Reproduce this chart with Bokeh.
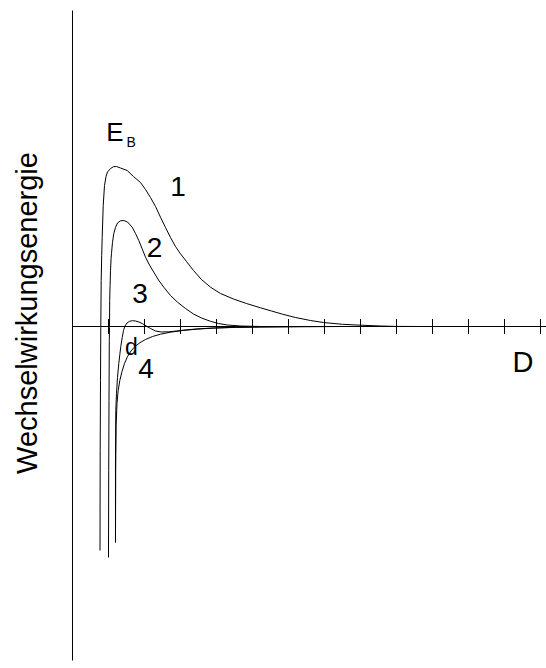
from math import pi
from bokeh.plotting import figure
from bokeh.models import Range1d, Label
from bokeh.embed import file_html
from bokeh.resources import INLINE

# ---- data (D in tick units, E in arbitrary energy units) ----
c1_D = [0.764, 0.769, 0.778, 0.786, 0.797, 0.811, 0.825, 0.853, 0.889, 0.931, 0.972, 1.056, 1.139,
        1.222, 1.333, 1.519, 1.694, 1.889, 2.028, 2.167, 2.306, 2.444, 2.583, 2.722, 2.861, 3.0,
        3.167, 3.361, 3.583, 3.833, 4.111, 4.472, 4.833, 5.222, 5.528, 5.833, 6.194, 6.611, 6.972,
        7.5, 8.0, 8.556, 8.972, 9.667]
c1_E = [-224, -124, -54, -1, 46, 71, 89, 121, 141, 150, 154.5, 158, 159.8,
        160, 158.5, 156, 150, 144, 137, 129, 120, 109.3, 99, 89, 80, 72.7,
        65, 56, 47, 39.3, 33, 27.5, 23, 18.7, 15.5, 12.3, 9, 6, 4,
        2.2, 1.3, 0.5, 0.1, 0]

c2_D = [1.0, 1.006, 1.014, 1.022, 1.028, 1.033, 1.044, 1.056, 1.072, 1.083, 1.111, 1.147, 1.194,
        1.25, 1.333, 1.425, 1.528, 1.658, 1.75, 1.842, 1.931, 2.028, 2.139, 2.258, 2.389, 2.536,
        2.722, 2.917, 3.139, 3.361, 3.583, 3.833, 4.056, 4.306, 4.667, 5.222]
c2_E = [-231, -144, -74, -14, -1, 26, 41, 56, 68, 73, 84, 93, 99,
        103.5, 105.7, 106, 104.5, 99.3, 93, 86, 78, 69.3, 61.5, 54.3, 46.5, 39.3,
        31, 24.3, 18, 12.5, 8.5, 5.2, 3, 1.5, 0.5, 0]

c3_D = [1.194, 1.194, 1.203, 1.222, 1.25, 1.286, 1.314, 1.342, 1.381, 1.417, 1.458, 1.514, 1.583,
        1.667, 1.75, 1.847, 1.944, 2.056, 2.167, 2.306, 2.472, 2.667, 2.889, 3.167, 3.556, 3.972,
        4.528, 5.222, 6.333, 7.444]
c3_E = [-216, -134, -84, -67, -51, -37, -28, -20, -11, -4, 0.5, 3.5, 5.2,
        5.8, 5.5, 4.5, 2.8, 0.3, -2, -4.5, -5.5, -5.3, -4.5, -3.3, -2.2, -1.4,
        -0.8, -0.4, -0.1, 0]

c4_D = [1.194, 1.2, 1.211, 1.236, 1.269, 1.314, 1.375, 1.444, 1.528, 1.625, 1.736, 1.875, 2.028,
        2.222, 2.444, 2.722, 3.056, 3.472, 3.917, 4.528, 5.222, 6.333, 7.444]
c4_E = [-216, -144, -99, -77, -64, -54, -45, -37, -30, -24.5, -20, -16.2, -13,
        -10, -7.7, -5.7, -4, -2.6, -1.6, -0.9, -0.5, -0.2, 0]

tick_positions = [1, 2, 3, 4, 5, 6, 7, 8, 9, 10, 11, 12, 13]
curve_labels = ["1", "2", "3", "4"]
y_title = "Wechselwirkungsenergie"
x_title = "D"
barrier_label = "E"
barrier_sub = "B"
min_label = "d"

FONT = "Liberation Sans"

p = figure(width=546, height=668, output_backend="svg", toolbar_location=None,
           x_range=Range1d(-2, 13.1667), y_range=Range1d(-342, 326),
           x_axis_location=None, y_axis_location=None, min_border=0,
           outline_line_color=None, background_fill_color="white",
           border_fill_color="white")
p.xgrid.visible = False
p.ygrid.visible = False

# axes drawn as lines through the data scales
p.segment(x0=[0], y0=[316], x1=[0], y1=[-334], line_color="black", line_width=1)
p.segment(x0=[0], y0=[0], x1=[13.17], y1=[0], line_color="black", line_width=1)
p.segment(x0=tick_positions, y0=[-7.5] * len(tick_positions),
          x1=tick_positions, y1=[7.5] * len(tick_positions),
          line_color="black", line_width=1)

for xs, ys in [(c1_D, c1_E), (c2_D, c2_E), (c3_D, c3_E), (c4_D, c4_E)]:
    p.line(xs, ys, line_color="black", line_width=1)

def lab(x, y, text, size, align="center", angle=0.0):
    p.add_layout(Label(x=x, y=y, text=text, text_font=FONT, text_font_size=size,
                       text_align=align, text_baseline="alphabetic",
                       text_color="black", angle=angle))

# curve numbers
lab(2.931, 140, curve_labels[0], "28px")
lab(2.278, 79, curve_labels[1], "28px")
lab(1.875, 33, curve_labels[2], "28px")
lab(2.042, -42, curve_labels[3], "28px")
lab(1.639, -20, min_label, "23px")
lab(12.514, -35.5, x_title, "29px")
lab(0.94, 194.5, barrier_label, "26px", align="left")
lab(1.5, 184.5, barrier_sub, "14px", align="left")
lab(-1.264, 13.5, y_title, "29px", angle=pi / 2)

open("out.html", "w").write(file_html(p, INLINE))
